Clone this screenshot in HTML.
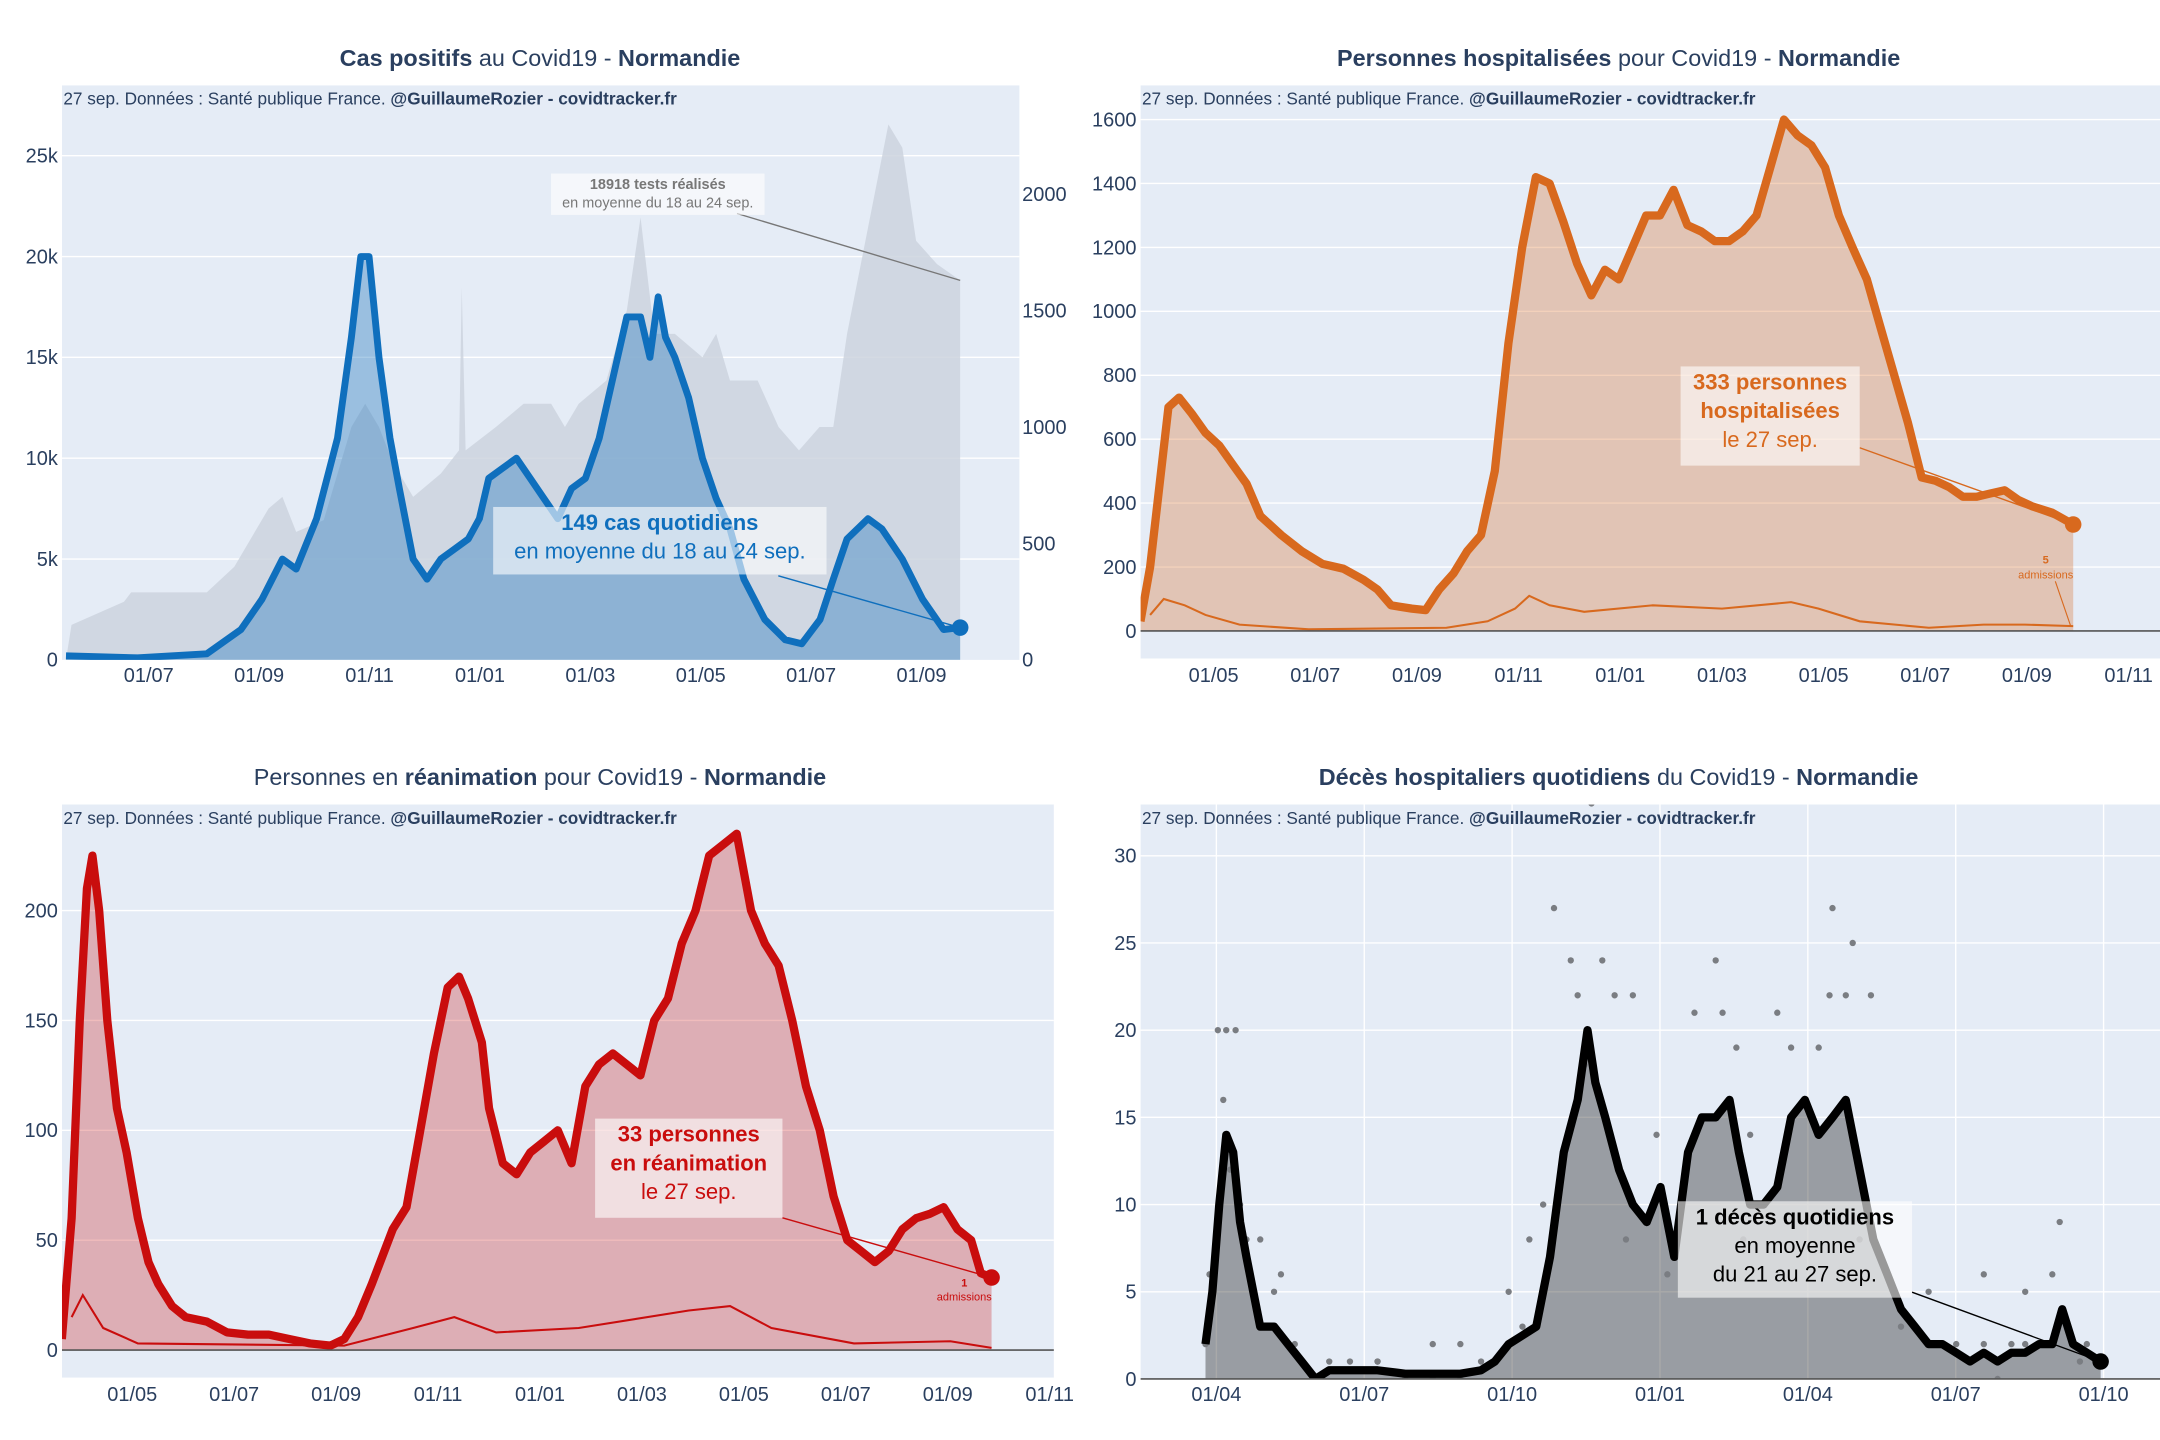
<!DOCTYPE html>
<html><head><meta charset="utf-8">
<style>
html,body{margin:0;padding:0;background:#fff;}
svg{display:block;font-family:"Liberation Sans",sans-serif;}
</style></head>
<body>
<svg id="c" xmlns="http://www.w3.org/2000/svg" width="2160" height="1440" viewBox="0 0 1568 1045.3" preserveAspectRatio="none">
<defs>
<clipPath id="k1"><rect x="45" y="62" width="695" height="417"/></clipPath>
<clipPath id="k2"><rect x="828" y="62" width="740" height="416"/></clipPath>
<clipPath id="k3"><rect x="45" y="584" width="720" height="416"/></clipPath>
<clipPath id="k4"><rect x="828" y="584" width="740" height="417"/></clipPath>
</defs>
</svg>
<script>
// ---- Panel 1 data: cases (7-day avg) and tests; t = months since Jan 2020
const casesT=[4.50,5.80,7.05,7.67,8.05,8.42,8.67,9.04,9.42,9.67,9.84,9.99,10.17,10.37,10.54,10.79,11.04,11.29,11.54,11.79,11.99,12.16,12.41,12.66,12.91,13.16,13.41,13.66,13.91,14.16,14.41,14.66,14.91,15.08,15.23,15.36,15.53,15.78,16.03,16.28,16.53,16.78,17.16,17.53,17.83,18.16,18.40,18.65,19.03,19.28,19.65,20.02,20.40,20.70];
const casesV=[200,100,300,1500,3000,5000,4500,7000,11000,16000,20000,20000,15000,11000,8500,5000,4000,5000,5500,6000,7000,9000,9500,10000,9000,8000,7000,8500,9000,11000,14000,17000,17000,15000,18000,16000,15000,13000,10000,8000,6500,4000,2000,1000,800,2000,4000,6000,7000,6500,5000,3000,1500,1600];
const testsT=[4.50,4.60,5.55,5.68,7.05,7.55,8.17,8.42,8.67,9.17,9.67,9.92,10.17,10.42,10.79,11.29,11.62,11.67,11.74,12.29,12.79,13.29,13.54,13.79,14.29,14.66,14.91,15.16,15.53,16.03,16.28,16.53,17.03,17.41,17.78,18.15,18.40,18.65,18.90,19.15,19.40,19.65,19.90,20.28,20.70];
const testsV=[0,150,250,290,290,400,650,700,550,600,1000,1100,1000,850,700,800,900,1600,900,1000,1100,1100,1000,1100,1200,1500,1900,1400,1400,1300,1400,1200,1200,1000,900,1000,1000,1400,1700,2000,2300,2200,1800,1700,1630];
const p1LeftTicks=[0,5000,10000,15000,20000,25000];
const p1LeftLabels=["0","5k","10k","15k","20k","25k"];
const p1RightTicks=[0,500,1000,1500,2000];
const p1XTicks=[6,8,10,12,14,16,18,20];
const p1XLabels=["01/07","01/09","01/11","01/01","01/03","01/05","01/07","01/09"];
// ---- Panel 2: hospitalised
const hospT=[2.56,2.75,3.11,3.32,3.57,3.84,4.11,4.38,4.65,4.92,5.33,5.73,6.14,6.55,6.95,7.22,7.49,7.90,8.17,8.44,8.72,8.99,9.26,9.53,9.80,10.07,10.34,10.61,10.88,11.15,11.43,11.70,11.97,12.24,12.51,12.78,13.05,13.32,13.59,13.86,14.14,14.41,14.68,14.95,15.22,15.49,15.76,16.03,16.30,16.57,16.85,17.12,17.39,17.66,17.93,18.20,18.47,18.74,19.01,19.28,19.56,19.83,20.10,20.50,20.91];
const hospV=[30,200,700,730,680,620,580,520,460,360,300,250,210,195,160,130,80,70,65,130,180,250,300,500,900,1200,1420,1400,1280,1150,1050,1130,1100,1200,1300,1300,1380,1270,1250,1220,1220,1250,1300,1450,1600,1550,1520,1450,1300,1200,1100,950,800,650,480,470,450,420,420,430,440,410,390,370,333];
const hospAdmT=[2.75,3.02,3.43,3.84,4.51,5.87,8.58,9.39,9.93,10.21,10.61,11.29,12.64,14.0,15.36,15.90,16.71,18.07,19.15,19.96,20.91];
const hospAdmV=[50,100,80,50,20,5,10,30,70,110,80,60,80,70,90,70,30,10,20,20,15];
const p2YTicks=[0,200,400,600,800,1000,1200,1400,1600];
const p2XTicks=[4,6,8,10,12,14,16,18,20,22];
const p2XLabels=["01/05","01/07","01/09","01/11","01/01","01/03","01/05","01/07","01/09","01/11"];
// ---- Panel 3: ICU
const icuT=[2.62,2.81,2.97,3.11,3.22,3.35,3.51,3.70,3.89,4.11,4.32,4.51,4.78,5.05,5.46,5.86,6.27,6.68,7.08,7.49,7.89,8.16,8.43,8.70,9.11,9.38,9.65,9.92,10.19,10.41,10.59,10.86,11.0,11.27,11.54,11.81,12.08,12.35,12.62,12.89,13.16,13.43,13.70,13.97,14.24,14.51,14.78,15.05,15.32,15.59,15.86,16.14,16.41,16.68,16.95,17.22,17.49,17.76,18.03,18.30,18.57,18.84,19.11,19.38,19.65,19.92,20.19,20.46,20.65,20.86];
const icuV=[5,60,150,210,225,200,150,110,90,60,40,30,20,15,13,8,7,7,5,3,2,5,15,30,55,65,100,135,165,170,160,140,110,85,80,90,95,100,85,120,130,135,130,125,150,160,185,200,225,230,235,200,185,175,150,120,100,70,50,45,40,45,55,60,62,65,55,50,35,33];
const icuAdmT=[2.81,3.03,3.43,4.11,8.16,9.51,10.32,11.14,12.76,14.92,15.73,16.54,18.16,20.05,20.86];
const icuAdmV=[15,25,10,3,2,10,15,8,10,18,20,10,3,4,1];
const p3YTicks=[0,50,100,150,200];
const p3XTicks=[4,6,8,10,12,14,16,18,20,22];
const p3XLabels=["01/05","01/07","01/09","01/11","01/01","01/03","01/05","01/07","01/09","01/11"];
// ---- Panel 4: deaths
const dT=[2.78,2.92,3.06,3.20,3.34,3.48,3.61,3.75,3.89,4.03,4.17,4.45,4.73,5.01,5.29,5.71,6.27,6.83,7.39,7.95,8.37,8.65,8.93,9.21,9.49,9.77,10.05,10.33,10.53,10.69,10.89,11.17,11.45,11.73,12.01,12.29,12.57,12.85,13.13,13.41,13.60,13.83,14.10,14.38,14.66,14.94,15.22,15.50,15.77,16.05,16.33,16.61,16.89,17.17,17.45,17.73,18.01,18.29,18.57,18.85,19.13,19.41,19.69,19.96,20.16,20.38,20.66,20.94];
const dV=[2,5,10,14,13,9,7,5,3,3,3,2,1,0,0.5,0.5,0.5,0.3,0.3,0.3,0.5,1,2,2.5,3,7,13,16,20,17,15,12,10,9,11,7,13,15,15,16,13,10,10,11,15,16,14,15,16,12,8,6,4,3,2,2,1.5,1,1.5,1,1.5,1.5,2,2,4,2,1.5,1];
const dotT=[3.03,3.2,3.39,3.14,3.28,2.86,3.48,3.61,3.89,4.31,4.17,4.59,9.85,10.19,10.83,11.45,10.33,11.08,12.7,13.13,13.27,13.55,14.38,14.66,15.5,15.91,15.77,15.44,16.28,10.47,11.93,13.83,15.22,20.11,19.96,19.41,18.57,17.45,9.35,8.93,7.95,6.27,7.39,9.63,11.31,12.15,13.69,16.05,16.89,18.85,20.52,10.61];
const dotV=[20,20,20,16,12,6,10,8,8,6,5,2,27,24,24,22,22,22,21,24,21,19,21,19,27,25,22,22,22,18,14,14,19,9,6,5,6,5,8,5,2,1,2,10,8,6,8,8,3,0,1,33];
const p4YTicks=[0,5,10,15,20,25,30];
const p4XTicks=[3,6,9,12,15,18,21];
const p4XLabels=["01/04","01/07","01/10","01/01","01/04","01/07","01/10"];

const NS='http://www.w3.org/2000/svg';
const svg=document.getElementById('c');
function mk(tag,a,p){const e=document.createElementNS(NS,tag);for(const k in a)e.setAttribute(k,a[k]);(p||svg).appendChild(e);return e;}
function X(P,m){return P.x0+(m-P.m0)*P.pm;}
function Y(P,v){return P.y0-v*P.pu;}
function linePath(P,t,v,pu){return t.map((m,i)=>(i?'L':'M')+X(P,m).toFixed(1)+','+(P.y0-v[i]*pu).toFixed(1)).join('');}
function areaPath(P,t,v,pu){return linePath(P,t,v,pu)+'L'+X(P,t[t.length-1]).toFixed(1)+','+P.y0+'L'+X(P,t[0]).toFixed(1)+','+P.y0+'Z';}
const TXT='#2a3f5f';

const P1={x0:108,m0:6,pm:40.07,y0:479,pu:73.2/5000,pu2:84.5/500,rx:45,ry:62,rw:695,rh:417,clip:'k1',title:['Cas positifs',' au Covid19 - ','Normandie'],tb:[true,false,true],tx:392,ty:48,xl:495};
const P2={x0:881,m0:4,pm:36.9,y0:458,pu:46.4/200,rx:828,ry:62,rw:740,rh:416,clip:'k2',title:['Personnes hospitalisées',' pour Covid19 - ','Normandie'],tb:[true,false,true],tx:1175,ty:48,xl:495};
const P3={x0:96,m0:4,pm:37,y0:980,pu:79.75/50,rx:45,ry:584,rw:720,rh:416,clip:'k3',title:['Personnes en ','réanimation',' pour Covid19 - ','Normandie'],tb:[false,true,false,true],tx:392,ty:570,xl:1017};
const P4={x0:883,m0:3,pm:35.78,y0:1001,pu:63.3/5,rx:828,ry:584,rw:740,rh:417,clip:'k4',title:['Décès hospitaliers quotidiens',' du Covid19 - ','Normandie'],tb:[true,false,true],tx:1175,ty:570,xl:1017};

function frame(P,name){
  const g=mk('g',{});
  
  
  const bg=mk('rect',{x:P.rx,y:P.ry,width:P.rw,height:P.rh,fill:'#e5ecf6'},g);
  
  
  const t=mk('text',{x:P.tx,y:P.ty,'text-anchor':'middle','font-size':17,fill:TXT},g);
  
  
  P.title.forEach((s,i)=>{const sp=mk('tspan',{'font-weight':P.tb[i]?'bold':'normal'},t);sp.textContent=s;});
  return g;
}
function subtitle(P,g){
  const t=mk('text',{x:P.rx+1,y:P.ry+14,'font-size':12.5,fill:TXT},g);
  
  
  const a=mk('tspan',{},t);a.textContent='27 sep. Données : Santé publique France. ';
  const b=mk('tspan',{'font-weight':'bold'},t);b.textContent='@GuillaumeRozier - covidtracker.fr';
}
function yAxis(P,g,ticks,labels,pu,side,grid){
  ticks.forEach((v,i)=>{
    const y=P.y0-v*pu;
    if(grid&&v>0){const l=mk('line',{x1:P.rx,x2:P.rx+P.rw,y1:y,y2:y,stroke:'#fff','stroke-width':1},g);
      
      }
    const t=mk('text',{x:side==='r'?P.rx+P.rw+2:P.rx-3,y:y+5,'text-anchor':side==='r'?'start':'end','font-size':14.5,fill:TXT},g);
    
    
    t.textContent=labels?labels[i]:String(v);
  });
}
function xAxis(P,g,ticks,labels,grid){
  ticks.forEach((m,i)=>{
    const x=X(P,m);
    if(grid){const l=mk('line',{x1:x,x2:x,y1:P.ry,y2:P.ry+P.rh,stroke:'#fff','stroke-width':1},g);
      
      }
    const t=mk('text',{x:x,y:P.xl,'text-anchor':'middle','font-size':14.5,fill:TXT},g);
    
    
    t.textContent=labels[i];
  });
}
function annot(g,x,y,w,h,lines,color,sizes,bolds,lx1,ly1,lx2,ly2,name){
  const a=mk('g',{},g);
  
  
  mk('line',{x1:lx1,y1:ly1,x2:lx2,y2:ly2,stroke:color,'stroke-width':1},a);
  mk('rect',{x:x,y:y,width:w,height:h,fill:'rgba(255,255,255,0.6)'},a);
  let yy=y;
  lines.forEach((s,i)=>{yy+=sizes[i]*1.3;const t=mk('text',{x:x+w/2,y:yy-sizes[i]*0.25,'text-anchor':'middle','font-size':sizes[i],'font-weight':bolds[i]?'bold':'normal',fill:color},a);t.textContent=s;});
}

// ===== Panel 1
(function(){
  const P=P1,g=frame(P,'cases-chart');
  yAxis(P,g,p1LeftTicks,p1LeftLabels,P.pu,'l',true);
  const cg=mk('g',{'clip-path':'url(#'+P.clip+')'},g);
  const tests=mk('path',{d:areaPath(P,testsT,testsV,P.pu2),fill:'#ccd3de',opacity:0.85},cg);
  
  
  const ca=mk('path',{d:areaPath(P,casesT,casesV,P.pu),fill:'rgba(31,119,190,0.38)'},cg);
  
  
  const cl=mk('path',{d:linePath(P,casesT,casesV,P.pu),fill:'none',stroke:'#0f6fbd','stroke-width':5,'stroke-linejoin':'round'},cg);
  
  
  yAxis(P,g,p1RightTicks,null,P.pu2,'r',false);
  xAxis(P,g,p1XTicks,p1XLabels,false);
  subtitle(P,g);
  const lt=testsT.length-1,lc=casesT.length-1;
  annot(g,400,126,155,30,['18918 tests réalisés','en moyenne du 18 au 24 sep.'],'#777',[10.5,10.5],[true,false],535,155,X(P,testsT[lt]),Y({y0:P.y0,pu:P.pu2},testsV[lt]),'tests-annotation');
  annot(g,358,368,242,49,['149 cas quotidiens','en moyenne du 18 au 24 sep.'],'#0f6fbd',[16,16],[true,false],565,418,X(P,casesT[lc]),Y(P,casesV[lc]),'cases-annotation');
  const m=mk('circle',{cx:X(P,casesT[lc]),cy:Y(P,casesV[lc]),r:6,fill:'#0f6fbd'},g);
  
  
})();

// ===== Panel 2
(function(){
  const P=P2,g=frame(P,'hospital-chart');
  yAxis(P,g,p2YTicks,null,P.pu,'l',true);
  const cg=mk('g',{'clip-path':'url(#'+P.clip+')'},g);
  const ar=mk('path',{d:areaPath(P,hospT,hospV,P.pu),fill:'rgba(214,104,30,0.3)'},cg);
  
  
  const ad=mk('path',{d:linePath(P,hospAdmT,hospAdmV,P.pu),fill:'none',stroke:'#d8691e','stroke-width':1.5},cg);
  
  
  const ln=mk('path',{d:linePath(P,hospT,hospV,P.pu),fill:'none',stroke:'#d8691e','stroke-width':6,'stroke-linejoin':'round'},cg);
  
  
  const z=mk('line',{x1:P.rx,x2:P.rx+P.rw,y1:P.y0,y2:P.y0,stroke:'#555','stroke-width':1.2},g);
  
  
  xAxis(P,g,p2XTicks,p2XLabels,false);
  subtitle(P,g);
  const l=hospT.length-1;
  annot(g,1220,266,130,72,['333 personnes','hospitalisées','le 27 sep.'],'#d8691e',[16,16,16],[true,true,false],1350,325,X(P,hospT[l]),Y(P,hospV[l]),'hospital-annotation');
  const s=mk('text',{x:1485,y:409,'text-anchor':'middle','font-size':8,fill:'#d8691e','font-weight':'bold'},g);s.textContent='5';
  
  
  const s2=mk('text',{x:1485,y:420,'text-anchor':'middle','font-size':8,fill:'#d8691e'},g);s2.textContent='admissions';
  
  
  mk('line',{x1:1492,y1:422,x2:1503,y2:454,stroke:'#d8691e','stroke-width':0.8},g);
  const m=mk('circle',{cx:X(P,hospT[l]),cy:Y(P,hospV[l]),r:6,fill:'#d8691e'},g);
  
  
})();

// ===== Panel 3
(function(){
  const P=P3,g=frame(P,'icu-chart');
  yAxis(P,g,p3YTicks,null,P.pu,'l',true);
  const cg=mk('g',{'clip-path':'url(#'+P.clip+')'},g);
  const ar=mk('path',{d:areaPath(P,icuT,icuV,P.pu),fill:'rgba(201,13,13,0.28)'},cg);
  
  
  const ad=mk('path',{d:linePath(P,icuAdmT,icuAdmV,P.pu),fill:'none',stroke:'#c90d0d','stroke-width':1.5},cg);
  
  
  const ln=mk('path',{d:linePath(P,icuT,icuV,P.pu),fill:'none',stroke:'#c90d0d','stroke-width':6,'stroke-linejoin':'round'},cg);
  
  
  const z=mk('line',{x1:P.rx,x2:P.rx+P.rw,y1:P.y0,y2:P.y0,stroke:'#555','stroke-width':1.2},g);
  
  
  xAxis(P,g,p3XTicks,p3XLabels,false);
  subtitle(P,g);
  const l=icuT.length-1;
  annot(g,432,812,136,72,['33 personnes','en réanimation','le 27 sep.'],'#c90d0d',[16,16,16],[true,true,false],568,884,X(P,icuT[l]),Y(P,icuV[l]),'icu-annotation');
  const s=mk('text',{x:700,y:934,'text-anchor':'middle','font-size':8,fill:'#c90d0d','font-weight':'bold'},g);s.textContent='1';
  
  
  const s2=mk('text',{x:700,y:944,'text-anchor':'middle','font-size':8,fill:'#c90d0d'},g);s2.textContent='admissions';
  
  
  const m=mk('circle',{cx:X(P,icuT[l]),cy:Y(P,icuV[l]),r:6,fill:'#c90d0d'},g);
  
  
})();

// ===== Panel 4
(function(){
  const P=P4,g=frame(P,'deaths-chart');
  yAxis(P,g,p4YTicks,null,P.pu,'l',true);
  xAxis(P,g,p4XTicks,p4XLabels,true);
  const cg=mk('g',{'clip-path':'url(#'+P.clip+')'},g);
  const ar=mk('path',{d:areaPath(P,dT,dV,P.pu),fill:'rgba(40,40,40,0.4)'},cg);
  
  
  dotT.forEach((m,i)=>{
    const c=mk('circle',{cx:X(P,m),cy:Y(P,dotV[i]),r:2.3,fill:'#7a7d82'},cg);
    
    
  });
  dT.forEach((m,i)=>{
    const c=mk('circle',{cx:X(P,m),cy:Y(P,Math.round(dV[i])),r:2.3,fill:'#7a7d82'},cg);
    
    
  });
  const ln=mk('path',{d:linePath(P,dT,dV,P.pu),fill:'none',stroke:'#000','stroke-width':6,'stroke-linejoin':'round'},cg);
  
  
  const z=mk('line',{x1:P.rx,x2:P.rx+P.rw,y1:P.y0,y2:P.y0,stroke:'#555','stroke-width':1.2},g);
  
  
  subtitle(P,g);
  const l=dT.length-1;
  annot(g,1218,872,170,70,['1 décès quotidiens','en moyenne','du 21 au 27 sep.'],'#000',[16,16,16],[true,false,false],1388,938,X(P,dT[l]),Y(P,dV[l]),'deaths-annotation');
  const m=mk('circle',{cx:X(P,dT[l]),cy:Y(P,dV[l]),r:6,fill:'#000'},g);
  
  
})();
</script>
</body></html>
